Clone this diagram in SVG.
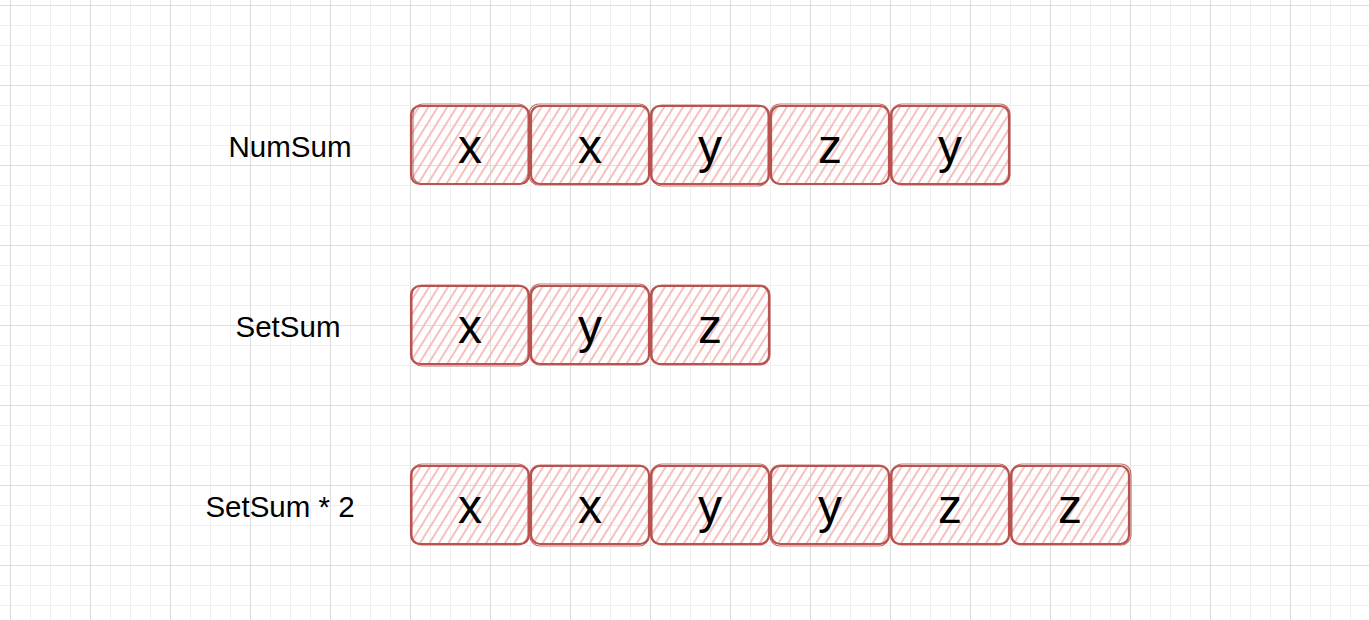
<svg xmlns="http://www.w3.org/2000/svg" width="1369" height="620" viewBox="0 0 1369 620">
<defs>
<pattern id="minor" x="10" y="5" width="20" height="20" patternUnits="userSpaceOnUse">
<path d="M0 0V20M0 0H20" fill="none" stroke="#efefef" stroke-width="2"/>
</pattern>
<pattern id="major" x="10" y="5" width="80" height="80" patternUnits="userSpaceOnUse">
<path d="M0 0V80M0 0H80" fill="none" stroke="#cfcfcf" stroke-width="1.2"/>
</pattern>
<pattern id="hatch" width="8" height="8" patternUnits="userSpaceOnUse" patternTransform="rotate(-58)">
<line x1="0" y1="4" x2="8" y2="4" stroke="#f5b9b6" stroke-width="1.8"/>
</pattern>
<style>
.box{fill:url(#hatch);stroke:#b85450;stroke-width:2.2}
.box2{fill:none;stroke:#b85450;stroke-width:1.2;opacity:0.8}
.v{font-family:"Liberation Sans",Arial,sans-serif;font-size:48px;fill:#000;text-anchor:middle}
.lbl{font-family:"Liberation Sans",Arial,sans-serif;font-size:29.5px;fill:#000;text-anchor:middle}
</style>
</defs>
<rect width="1369" height="620" fill="#ffffff"/>
<rect width="1369" height="620" fill="url(#minor)"/>
<rect width="1369" height="620" fill="url(#major)"/>

<g id="label-numsum"><text class="lbl" x="290" y="157">NumSum</text></g>
<g id="label-setsum"><text class="lbl" x="288" y="337">SetSum</text></g>
<g id="label-setsum2"><text class="lbl" x="280" y="517">SetSum * 2</text></g>

<g id="r1c1"><rect class="box" x="411" y="106" width="118" height="78" rx="9"/><rect class="box2" x="413" y="104" width="115" height="80" rx="10"/><text class="v" x="470" y="163">x</text></g>
<g id="r1c2"><rect class="box" x="531" y="106" width="118" height="78" rx="9"/><rect class="box2" x="529" y="104" width="120" height="81" rx="10"/><text class="v" x="590" y="163">x</text></g>
<g id="r1c3"><rect class="box" x="651" y="106" width="118" height="78" rx="9"/><rect class="box2" x="652" y="105" width="116" height="81" rx="10"/><text class="v" x="710" y="163">y</text></g>
<g id="r1c4"><rect class="box" x="771" y="106" width="118" height="78" rx="9"/><rect class="box2" x="770" y="104" width="119" height="80" rx="10"/><text class="v" x="830" y="163">z</text></g>
<g id="r1c5"><rect class="box" x="891" y="106" width="118" height="78" rx="9"/><rect class="box2" x="892" y="104" width="118" height="81" rx="10"/><text class="v" x="950" y="163">y</text></g>

<g id="r2c1"><rect class="box" x="411" y="286" width="118" height="78" rx="9"/><rect class="box2" x="412" y="285" width="116" height="81" rx="10"/><text class="v" x="470" y="343">x</text></g>
<g id="r2c2"><rect class="box" x="531" y="286" width="118" height="78" rx="9"/><rect class="box2" x="530" y="284" width="119" height="81" rx="10"/><text class="v" x="590" y="343">y</text></g>
<g id="r2c3"><rect class="box" x="651" y="286" width="118" height="78" rx="9"/><rect class="box2" x="652" y="285" width="118" height="80" rx="10"/><text class="v" x="710" y="343">z</text></g>

<g id="r3c1"><rect class="box" x="411" y="466" width="118" height="78" rx="9"/><rect class="box2" x="412" y="464" width="116" height="81" rx="10"/><text class="v" x="470" y="523">x</text></g>
<g id="r3c2"><rect class="box" x="531" y="466" width="118" height="78" rx="9"/><rect class="box2" x="530" y="465" width="119" height="81" rx="10"/><text class="v" x="590" y="523">x</text></g>
<g id="r3c3"><rect class="box" x="651" y="466" width="118" height="78" rx="9"/><rect class="box2" x="652" y="464" width="117" height="81" rx="10"/><text class="v" x="710" y="523">y</text></g>
<g id="r3c4"><rect class="box" x="771" y="466" width="118" height="78" rx="9"/><rect class="box2" x="770" y="465" width="119" height="81" rx="10"/><text class="v" x="830" y="523">y</text></g>
<g id="r3c5"><rect class="box" x="891" y="466" width="118" height="78" rx="9"/><rect class="box2" x="892" y="464" width="117" height="81" rx="10"/><text class="v" x="950" y="523">z</text></g>
<g id="r3c6"><rect class="box" x="1011" y="466" width="118" height="78" rx="9"/><rect class="box2" x="1012" y="464" width="119" height="81" rx="10"/><text class="v" x="1070" y="523">z</text></g>

<g id="connectors"></g>
</svg>
